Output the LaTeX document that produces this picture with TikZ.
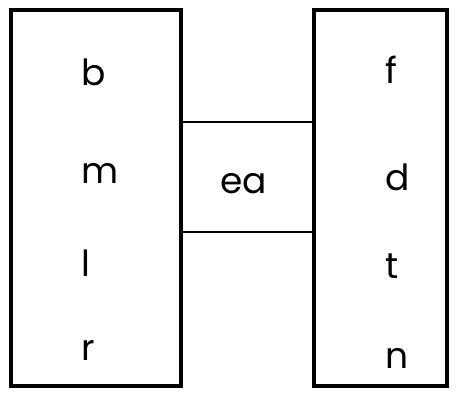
\documentclass[tikz,border=0pt]{standalone}
\usepackage{fontspec}
\setmainfont{Poppins}
\begin{document}
\begin{tikzpicture}[x=0.75pt,y=-0.75pt,
  bigbox/.style={draw=black,line width=2.3pt},
  smallbox/.style={draw=black,line width=2pt},
  lbl/.style={anchor=base west,inner sep=0pt,font=\fontsize{27}{32}\selectfont\rmfamily}]
\useasboundingbox (0,0) rectangle (458,397);
\draw[bigbox] (11,10) rectangle (181,386);
\draw[bigbox] (314,10) rectangle (447,386);
\draw[smallbox] (181,122) rectangle (314,232);
\node[lbl] (b) at (81,85) {b};
\node[lbl] (m) at (81,183) {m};
\node[lbl] (l) at (81,276) {l};
\node[lbl] (r) at (81,360) {r};
\node[lbl] (f) at (385,83) {f};
\node[lbl] (d) at (385,190) {d};
\node[lbl] (t) at (385,278) {t};
\node[lbl] (n) at (385,368) {n};
\node[lbl] (ea) at (220,193) {ea};
\end{tikzpicture}
\end{document}
